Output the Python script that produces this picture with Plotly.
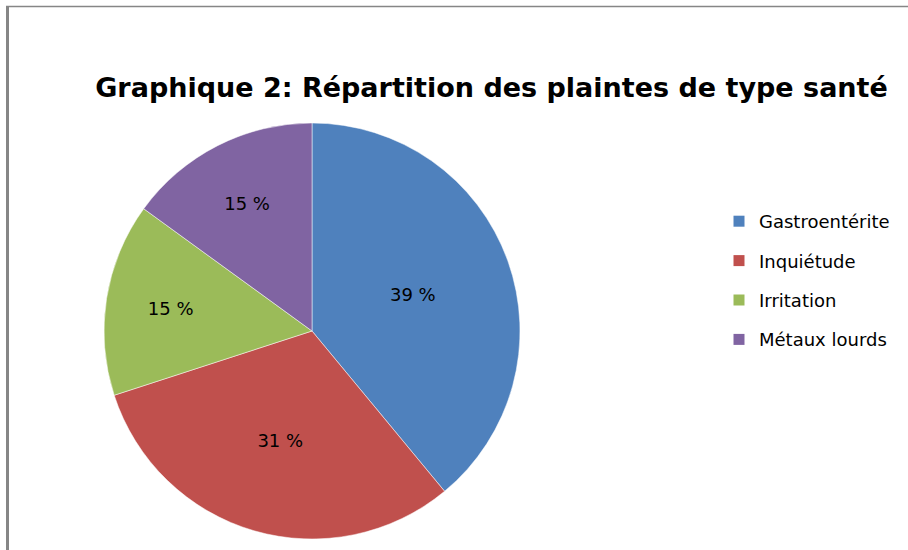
import plotly.graph_objects as go

categories = ["Gastroentérite", "Inquiétude", "Irritation", "Métaux lourds"]
values = [39, 31, 15, 15]
colors = ["#4F81BD", "#C0504D", "#9BBB59", "#8064A2"]
title_text = "Graphique 2: Répartition des plaintes de type santé"

W, H = 908, 550
cx, cy, r = 312, 331, 208
FONT = "DejaVu Sans, sans-serif"

fig = go.Figure()
fig.add_trace(go.Pie(
    labels=categories,
    values=values,
    sort=False,
    direction="clockwise",
    rotation=0,
    marker=dict(colors=colors, line=dict(color="white", width=0.5)),
    texttemplate="%{value} %",
    textposition="inside",
    insidetextorientation="horizontal",
    textfont=dict(family=FONT, size=18, color="black"),
    domain=dict(x=[(cx - r) / W, (cx + r) / W], y=[(H - cy - r) / H, (H - cy + r) / H]),
    hoverinfo="label+percent",
    showlegend=False,
))

# legend entries (one per category, same colours as the slices)
for name, col in zip(categories, colors):
    fig.add_trace(go.Scatter(
        x=[None], y=[None], mode="markers", name=name, legendgroup=name,
        marker=dict(symbol="square", size=11, color=col),
        hoverinfo="skip",
    ))

fig.update_layout(
    width=W, height=H,
    margin=dict(l=0, r=0, t=0, b=0),
    paper_bgcolor="white",
    plot_bgcolor="white",
    xaxis=dict(visible=False),
    yaxis=dict(visible=False),
    title=dict(text="<b>" + title_text + "</b>", x=491.5 / W, xanchor="center", y=1 - 88 / H, yanchor="middle",
               font=dict(family=FONT, size=27, color="black")),
    legend=dict(x=719 / W, xanchor="left", y=1 - 203 / H, yanchor="top",
                font=dict(family=FONT, size=18, color="black"),
                tracegroupgap=13,
                bgcolor="rgba(0,0,0,0)"),
    shapes=[
        dict(type="line", xref="paper", yref="paper", x0=7.5 / W, x1=7.5 / W, y0=0, y1=1 - 6 / H,
             line=dict(color="#868686", width=3)),
        dict(type="line", xref="paper", yref="paper", x0=6 / W, x1=1, y0=1 - 6.5 / H, y1=1 - 6.5 / H,
             line=dict(color="#868686", width=1.5)),
    ],
)

fig.write_html(
    "out.html",
    config={"displayModeBar": False},
    post_script="document.body.style.margin='0';document.body.style.overflow='hidden';",
)
